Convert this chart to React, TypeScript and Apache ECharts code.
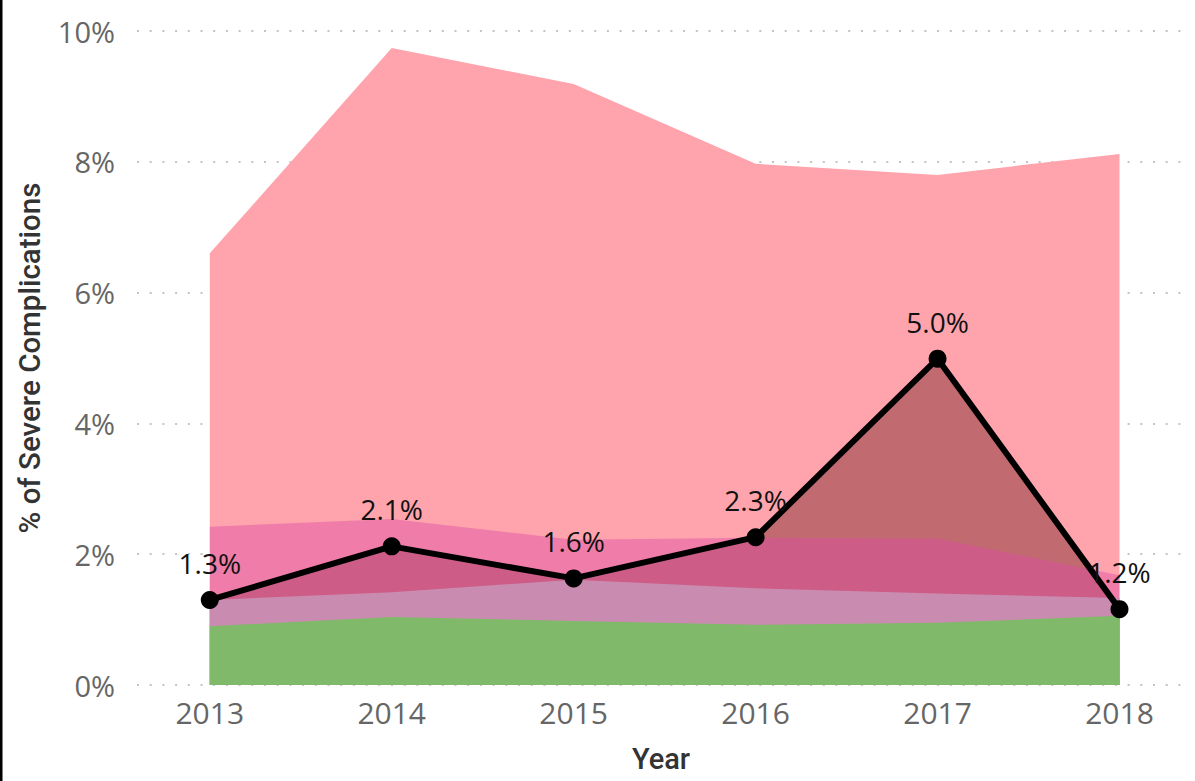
import React, { useEffect, useRef } from "react";
import * as echarts from "echarts";

const years = [2013, 2014, 2015, 2016, 2017, 2018];
const upperBand = [6.6, 9.74, 9.19, 7.97, 7.8, 8.12];
const middleBand = [2.42, 2.54, 2.22, 2.25, 2.24, 1.68];
const lowerBand = [1.3, 1.42, 1.61, 1.48, 1.4, 1.33];
const baseBand = [0.9, 1.04, 0.98, 0.92, 0.95, 1.06];
const severeRate = [1.3, 2.12, 1.63, 2.26, 4.99, 1.16];
const yTicks = [0, 2, 4, 6, 8, 10];

const pairs = (vals: number[]) => years.map((y, i) => [y, vals[i]]);

const FONT = "'Open Sans', 'Noto Sans', sans-serif";
const TITLE_FONT = "Roboto, 'Noto Sans', sans-serif";

export default function App() {
  const ref = useRef<HTMLDivElement>(null);
  useEffect(() => {
    if (!ref.current) return;
    const chart = echarts.init(ref.current, null, { renderer: "svg" });
    const area = (name: string, vals: number[], color: string) => ({
      name,
      type: "line",
      data: pairs(vals),
      symbol: "none",
      lineStyle: { width: 0 },
      areaStyle: { color, opacity: 1 },
      silent: true,
    });
    chart.setOption({
      animation: false,
      backgroundColor: "#ffffff",
      graphic: [
        {
          type: "rect",
          shape: { x: 0, y: 0, width: 2.5, height: 781 },
          style: { fill: "#000000" },
        },
      ],
      grid: {
        left: 137,
        right: 10,
        top: 31,
        bottom: 96,
        containLabel: false,
        outerBoundsMode: "none",
      },
      xAxis: {
        type: "value",
        min: 2012.6,
        max: 2018.36,
        name: "Year",
        nameLocation: "middle",
        nameGap: 59,
        nameTextStyle: { fontFamily: TITLE_FONT, fontSize: 29, fontWeight: 500, color: "#333333" },
        axisLine: { show: false },
        axisTick: { show: false },
        splitLine: { show: false },
        axisLabel: {
          customValues: years,
          formatter: (v: number) => String(v),
          fontFamily: FONT,
          fontSize: 30,
          color: "#666666",
          margin: 12,
        },
      },
      yAxis: {
        type: "value",
        min: 0,
        max: 10,
        interval: 2,
        name: "% of Severe Complications",
        nameLocation: "middle",
        nameGap: 92,
        nameTextStyle: { fontFamily: TITLE_FONT, fontSize: 29.5, fontWeight: 500, color: "#333333" },
        axisLine: { show: false },
        axisTick: { show: false },
        axisLabel: {
          customValues: yTicks,
          formatter: (v: number) => v + "%",
          fontFamily: FONT,
          fontSize: 29,
          color: "#666666",
          margin: 22,
        },
        splitLine: {
          show: true,
          lineStyle: { color: "#c4c4c4", width: 2, type: [2, 10.7] },
        },
      },
      series: [
        area("Upper range", upperBand, "#ffa4ad"),
        area("Rate area", severeRate, "rgba(100,20,20,0.4)"),
        area("Middle range", middleBand, "rgba(221,74,163,0.44)"),
        area("Lower range", lowerBand, "#c98bb0"),
        area("Base range", baseBand, "#80b96a"),
        {
          name: "% of Severe Complications",
          type: "line",
          data: pairs(severeRate),
          symbol: "circle",
          symbolSize: 18,
          itemStyle: { color: "#000000" },
          lineStyle: { color: "#000000", width: 6 },
          label: {
            show: true,
            position: "top",
            distance: 14,
            formatter: (p: any) => p.value[1].toFixed(1) + "%",
            fontFamily: FONT,
            fontSize: 28,
            color: "#111111",
          },
          z: 5,
        },
      ],
    });
    return () => chart.dispose();
  }, []);
  return (
    <div
      ref={ref}
      style={{ position: "absolute", left: 0, top: 0, width: 1195, height: 781 }}
    />
  );
}
